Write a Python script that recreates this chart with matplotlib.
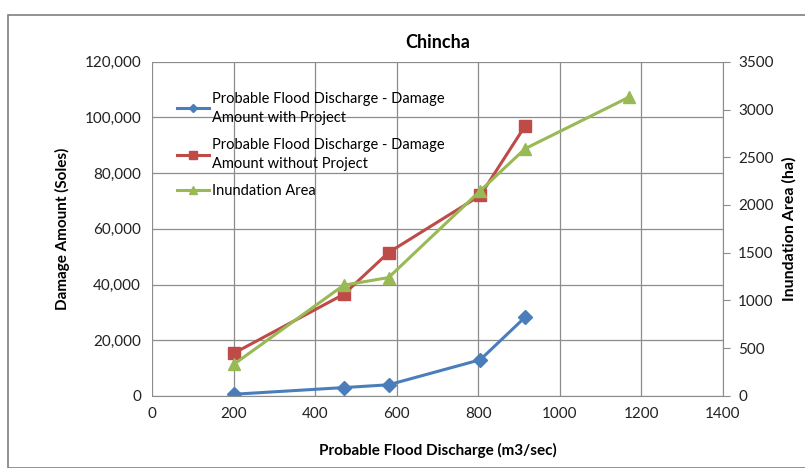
import matplotlib.pyplot as plt
from matplotlib.patches import Rectangle
from matplotlib.ticker import FuncFormatter

# data
q_with = [200, 470, 580, 805, 915]
damage_with = [600, 3000, 4000, 13000, 28300]

q_without = [200, 470, 580, 805, 915]
damage_without = [15300, 36500, 51500, 72000, 97000]

q_area = [200, 470, 580, 805, 915, 1170]
inundation_area = [330, 1160, 1240, 2150, 2590, 3130]

plt.rcParams['font.family'] = ['Lato', 'DejaVu Sans']

fig = plt.figure(figsize=(8.05, 4.68), dpi=100)
ax = fig.add_axes([0.189, 0.154, 0.709, 0.714])
ax2 = ax.twinx()

grid_col = '#8c8c8c'
blue = '#4a7ebb'
red = '#be4b48'
green = '#98b954'

l1, = ax.plot(q_with, damage_with, color=blue, lw=2.2, marker='D', ms=7,
              label='Probable Flood Discharge - Damage\nAmount with Project')
l2, = ax.plot(q_without, damage_without, color=red, lw=2.2, marker='s', ms=9,
              label='Probable Flood Discharge - Damage\nAmount without Project')
l3, = ax2.plot(q_area, inundation_area, color=green, lw=2.2, marker='^', ms=9,
               label='Inundation Area')

ax.set_xlim(0, 1400)
ax.set_ylim(0, 120000)
ax2.set_ylim(0, 3500)
ax.set_xticks(range(0, 1401, 200))
ax.set_yticks(range(0, 120001, 20000))
ax2.set_yticks(range(0, 3501, 500))
ax.yaxis.set_major_formatter(FuncFormatter(lambda v, p: f'{int(v):,}'))

ax.grid(True, color=grid_col, lw=0.9)
ax.set_axisbelow(True)
for a in (ax, ax2):
    for s in a.spines.values():
        s.set_visible(False)
ax.spines['bottom'].set_visible(True)
ax.spines['bottom'].set_color(grid_col)
ax2.spines['right'].set_visible(True)
ax2.spines['right'].set_color(grid_col)

ax.tick_params(axis='both', length=0, labelsize=11, pad=8, labelcolor='#222222')
ax2.tick_params(axis='y', length=5, color=grid_col, labelsize=11, pad=6,
                labelcolor='#222222')

ax.set_xlabel('Probable Flood Discharge (m3/sec)', fontsize=11, fontweight='bold',
              labelpad=16)
ax.set_ylabel('Damage Amount (Soles)', fontsize=11, fontweight='bold', labelpad=10)
ax2.set_ylabel('Inundation Area (ha)', fontsize=11.5, fontweight='bold', labelpad=6)
ax.set_title('Chincha', fontsize=13, fontweight='bold', pad=10)

leg = ax2.legend(handles=[l1, l2, l3], loc='upper left', bbox_to_anchor=(0.02, 0.95),
                 frameon=False, fontsize=10.5, handlelength=2.2, handletextpad=0.2,
                 labelspacing=0.9, markerscale=0.6)
for t in leg.get_texts():
    t.set_linespacing(1.45)

fig.patches.append(Rectangle((0.01, 0.0), 1.0, 0.968, transform=fig.transFigure,
                             fill=False, edgecolor='#7f7f7f', lw=1.2))

fig.savefig('out.png', dpi=100)
